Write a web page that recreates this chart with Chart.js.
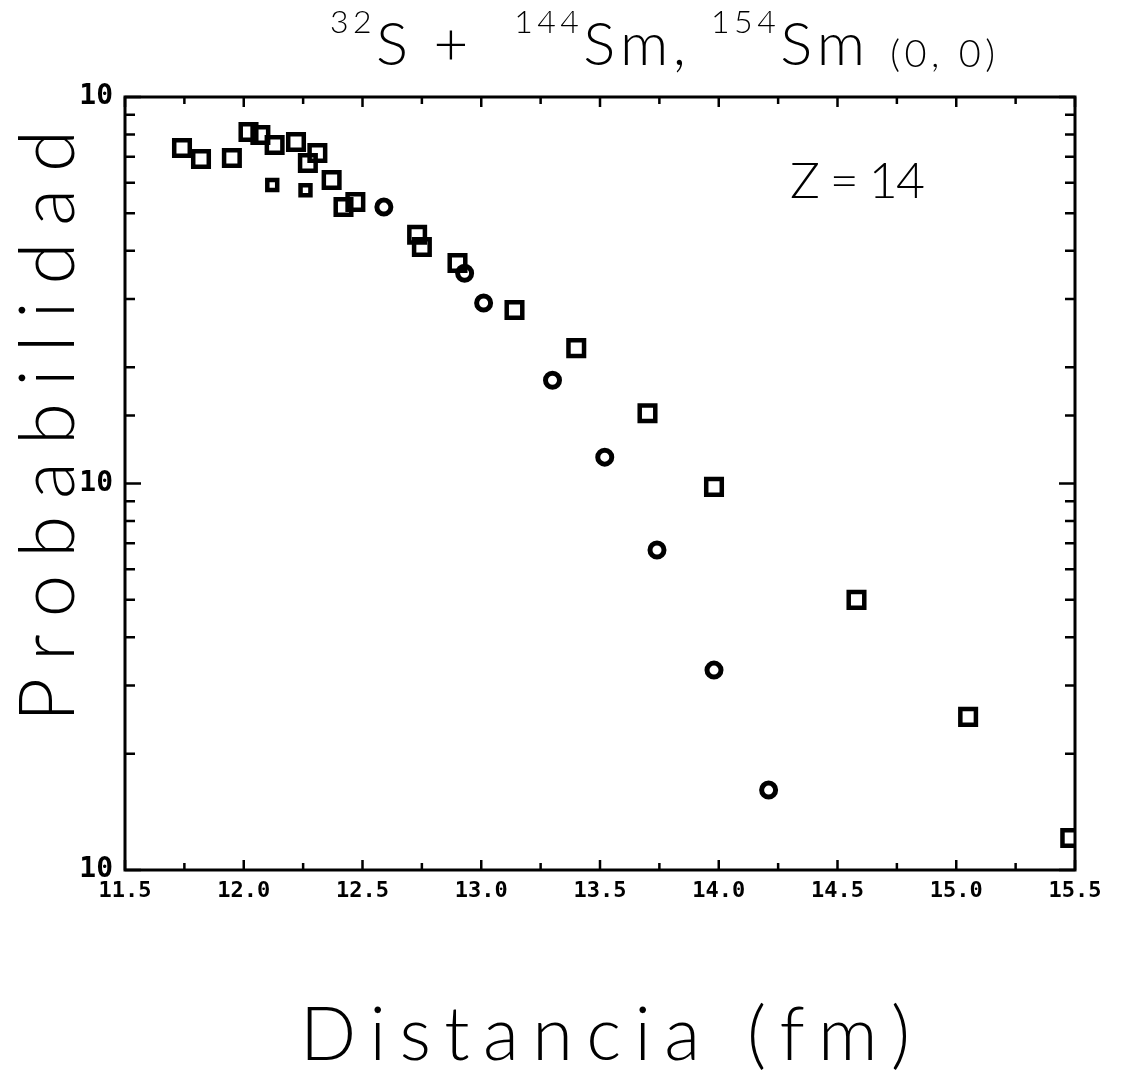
<!DOCTYPE html>
<html>
<head>
<meta charset="utf-8">
<script src="https://cdn.jsdelivr.net/npm/chart.js@4.4.1/dist/chart.umd.min.js"></script>
<style>
  html, body { margin: 0; padding: 0; background: #fff; }
  #wrap { width: 1142px; height: 1072px; position: relative; }
</style>
</head>
<body>
<div id="wrap"><canvas id="grafico"></canvas></div>
<script>
// distancia (fm) y probabilidad de cada punto
const distCuad = [11.74, 11.82, 11.95, 12.02, 12.07, 12.13, 12.22, 12.27, 12.31, 12.37, 12.42, 12.47, 12.73, 12.75, 12.90, 13.14, 13.40, 13.70, 13.98, 14.58, 15.05, 15.48];
const probCuad = [0.738, 0.691, 0.695, 0.812, 0.797, 0.751, 0.765, 0.675, 0.716, 0.610, 0.519, 0.535, 0.440, 0.409, 0.372, 0.281, 0.224, 0.152, 0.098, 0.050, 0.0249, 0.0121];
const distChico = [12.12, 12.26];
const probChico = [0.592, 0.574];
const distOval = [12.59, 12.93, 13.01, 13.30, 13.52, 13.74, 13.98, 14.21];
const probOval = [0.519, 0.350, 0.293, 0.185, 0.117, 0.0673, 0.0329, 0.0161];

const xMin = 11.5, xMax = 15.5, xPaso = 0.25;
const xLabels = ['11.5', '12.0', '12.5', '13.0', '13.5', '14.0', '14.5', '15.0', '15.5'];
const yMin = 0.01, yMax = 1;
const yLabel = '10';

const puntos = (xs, ys) => xs.map((x, i) => ({ x: x, y: ys[i] }));
const esDecada = v => Math.abs(Math.log10(v) - Math.round(Math.log10(v))) < 1e-9;
const esMayor = v => Math.abs(v * 2 - Math.round(v * 2)) < 1e-6;

// escribe texto letra por letra repartiendo el ancho total
function textoEspaciado(ctx, segs, x0, ancho, base) {
  const letras = [];
  segs.forEach(s => {
    ctx.font = s.font;
    for (const c of s.t) letras.push({ c: c, font: s.font, dy: s.dy || 0, w: ctx.measureText(c).width });
  });
  const natural = letras.reduce((a, l) => a + l.w, 0);
  const hueco = letras.length > 1 ? (ancho - natural) / (letras.length - 1) : 0;
  let x = x0;
  letras.forEach(l => {
    ctx.font = l.font;
    ctx.fillText(l.c, x, base + l.dy);
    x += l.w + hueco;
  });
}

const mano = '300 60px Lato, "DejaVu Sans", sans-serif';
const manoSup = '300 32px Lato, "DejaVu Sans", sans-serif';
const manoChica = '300 38px Lato, "DejaVu Sans", sans-serif';

const marco = {
  id: 'marco',
  beforeDatasetsDraw(chart) {
    const { ctx, chartArea: a, scales: { x, y } } = chart;
    ctx.save();
    ctx.strokeStyle = '#000';
    ctx.lineWidth = 3;
    ctx.strokeRect(a.left, a.top, a.right - a.left, a.bottom - a.top);
    ctx.lineWidth = 2.5;
    ctx.beginPath();
    x.ticks.forEach(t => {
      const px = x.getPixelForValue(t.value);
      const l = esMayor(t.value) ? 10 : 7;
      ctx.moveTo(px, a.bottom); ctx.lineTo(px, a.bottom - l);
      ctx.moveTo(px, a.top); ctx.lineTo(px, a.top + l);
    });
    y.ticks.forEach(t => {
      const py = y.getPixelForValue(t.value);
      const l = esDecada(t.value) ? 16 : 10;
      ctx.moveTo(a.left, py); ctx.lineTo(a.left + l, py);
      ctx.moveTo(a.right, py); ctx.lineTo(a.right - l, py);
    });
    ctx.stroke();
    ctx.restore();
  },
  afterDraw(chart) {
    const ctx = chart.ctx;
    ctx.save();
    ctx.fillStyle = '#000';
    ctx.textAlign = 'left';
    ctx.textBaseline = 'alphabetic';
    // titulo
    textoEspaciado(ctx, [
      { t: '32', font: manoSup, dy: -32 },
      { t: 'S +  ', font: mano },
      { t: '144', font: manoSup, dy: -32 },
      { t: 'Sm, ', font: mano },
      { t: '154', font: manoSup, dy: -32 },
      { t: 'Sm ', font: mano },
      { t: '(0, 0)', font: manoChica, dy: 2 }
    ], 330, 665, 65);
    // anotacion
    textoEspaciado(ctx, [{ t: 'Z = 14', font: '300 50px Lato, sans-serif' }], 790, 135, 198);
    // titulos de ejes
    textoEspaciado(ctx, [{ t: 'Distancia (fm)', font: '300 74px Lato, sans-serif' }], 300, 610, 1060);
    ctx.translate(74, 722);
    ctx.rotate(-Math.PI / 2);
    textoEspaciado(ctx, [{ t: 'Probabilidad', font: '300 76px Lato, sans-serif' }], 0, 592, 0);
    ctx.restore();
  }
};

const hueco = 'rgba(0,0,0,0)';

new Chart(document.getElementById('grafico'), {
  type: 'scatter',
  data: {
    datasets: [
      {
        label: '144Sm',
        data: puntos(distCuad, probCuad),
        pointStyle: 'rect',
        pointRadius: 11,
        pointBorderWidth: 4.5,
        pointBorderColor: '#000',
        pointBackgroundColor: hueco
      },
      {
        label: '144Sm b',
        data: puntos(distChico, probChico),
        pointStyle: 'rect',
        pointRadius: 7,
        pointBorderWidth: 4.5,
        pointBorderColor: '#000',
        pointBackgroundColor: hueco
      },
      {
        label: '154Sm',
        data: puntos(distOval, probOval),
        pointStyle: 'circle',
        pointRadius: 7,
        pointBorderWidth: 5,
        pointBorderColor: '#000',
        pointBackgroundColor: hueco
      }
    ]
  },
  options: {
    responsive: true,
    maintainAspectRatio: false,
    animation: false,
    events: [],
    layout: { padding: { left: 0, right: 67, top: 97, bottom: 0 } },
    plugins: { legend: { display: false }, tooltip: { enabled: false } },
    scales: {
      x: {
        type: 'linear',
        min: xMin,
        max: xMax,
        grid: { display: false, drawTicks: false },
        border: { display: false },
        ticks: {
          stepSize: xPaso,
          autoSkip: false,
          maxRotation: 0,
          minRotation: 0,
          padding: 8,
          color: '#000',
          font: { family: '"DejaVu Sans Mono", monospace', size: 22, weight: 'bold' },
          callback: v => esMayor(v) ? xLabels[Math.round((v - xMin) / 0.5)] : ''
        },
        afterFit: s => { s.height = 202; }
      },
      y: {
        type: 'logarithmic',
        min: yMin,
        max: yMax,
        grid: { display: false, drawTicks: false },
        border: { display: false },
        ticks: {
          autoSkip: false,
          padding: 12,
          color: '#000',
          font: { family: '"DejaVu Sans Mono", monospace', size: 28, weight: 'bold' },
          callback: v => esDecada(v) ? yLabel : ''
        },
        afterFit: s => { s.width = 125; }
      }
    }
  },
  plugins: [marco]
});
</script>
</body>
</html>
